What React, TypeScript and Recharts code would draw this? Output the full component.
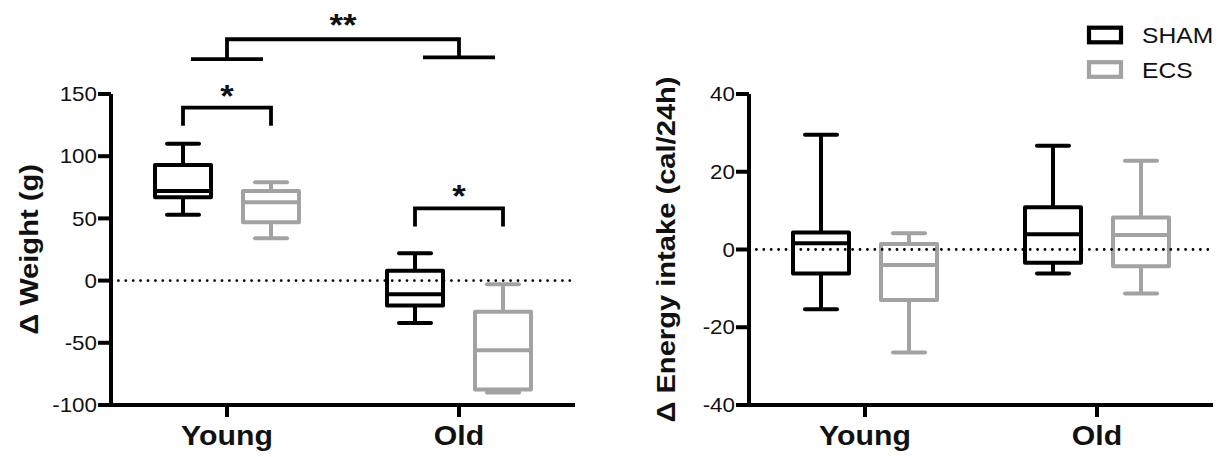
import React from 'react';
import { ComposedChart, Bar, XAxis, YAxis, ReferenceLine } from 'recharts';

const categories = ['Young', 'Old'];
const seriesNames = ['SHAM', 'ECS'];
const seriesColors = ['#000000', '#a2a2a5'];

// Δ Weight (g) — whisker min, Q1, median, Q3, whisker max per category
const weightShamMin = [53, -34];
const weightShamQ1 = [67, -20];
const weightShamMedian = [72, -11];
const weightShamQ3 = [93, 8];
const weightShamMax = [110, 22];
const weightEcsMin = [34, -90];
const weightEcsQ1 = [47, -87.5];
const weightEcsMedian = [63, -56];
const weightEcsQ3 = [72, -25];
const weightEcsMax = [79, -3];
const weightTicks = [-100, -50, 0, 50, 100, 150];

// Δ Energy intake (cal/24h)
const energyShamMin = [-15.4, -6.2];
const energyShamQ1 = [-6.2, -3.4];
const energyShamMedian = [1.6, 3.9];
const energyShamQ3 = [4.4, 10.9];
const energyShamMax = [29.5, 26.7];
const energyEcsMin = [-26.5, -11.3];
const energyEcsQ1 = [-13, -4.3];
const energyEcsMedian = [-4, 3.7];
const energyEcsQ3 = [1.4, 8.2];
const energyEcsMax = [4.2, 22.8];
const energyTicks = [-40, -20, 0, 20, 40];

// significance: SHAM vs ECS within a category (bracket level, in g)
const pairSigLabels = ['*', '*'];
const pairSigLevels = [139, 58];
// Young vs Old overall
const groupSigLabel = '**';
const groupSigLevel = 194;
const groupBaseLevels = [178, 179.5];

const FONT = '"Liberation Sans", Arial, Helvetica, sans-serif';
const STRETCH = 1.12;
const BAR_SIZE = 60;
const BAR_GAP = 28;
const SW = 4;

type Stats = { min: number; q1: number; med: number; q3: number; max: number };

function buildRows(sham: number[][], ecs: number[][]) {
  return categories.map((cat, i) => {
    const s: Stats = { min: sham[0][i], q1: sham[1][i], med: sham[2][i], q3: sham[3][i], max: sham[4][i] };
    const e: Stats = { min: ecs[0][i], q1: ecs[1][i], med: ecs[2][i], q3: ecs[3][i], max: ecs[4][i] };
    return { cat, SHAM: [s.min, s.max], ECS: [e.min, e.max], SHAMstats: s, ECSstats: e };
  });
}

const weightRows = buildRows(
  [weightShamMin, weightShamQ1, weightShamMedian, weightShamQ3, weightShamMax],
  [weightEcsMin, weightEcsQ1, weightEcsMedian, weightEcsQ3, weightEcsMax],
);
const energyRows = buildRows(
  [energyShamMin, energyShamQ1, energyShamMedian, energyShamQ3, energyShamMax],
  [energyEcsMin, energyEcsQ1, energyEcsMedian, energyEcsQ3, energyEcsMax],
);

function SText({ x, y, anchor = 'start', size, weight = 'normal', rotate = false, dy, children }: any) {
  return (
    <text
      transform={`translate(${x},${y})${rotate ? ' rotate(-90)' : ''} scale(${STRETCH},1)`}
      textAnchor={anchor}
      fontSize={size}
      fontWeight={weight}
      fontFamily={FONT}
      fill="#111"
      dy={dy}
    >
      {children}
    </text>
  );
}

const XTick = (p: any) => (
  <SText x={p.x} y={p.y} anchor="middle" size={27} weight="bold" dy="0.71em">{p.payload.value}</SText>
);
const YTick = (p: any) => (
  <SText x={p.x} y={p.y} anchor="end" size={20} dy="0.355em">{p.payload.value}</SText>
);

function BoxShape(props: any) {
  const { x, y, width, height, color, stats } = props;
  const s: Stats = stats;
  const top = Math.min(y, y + height);
  const bottom = Math.max(y, y + height);
  const px = (v: number) => bottom - ((v - s.min) / (s.max - s.min)) * (bottom - top);
  const cx = x + width / 2;
  const cap = 16;
  return (
    <g stroke={color} strokeWidth={SW} fill="none">
      <line x1={cx} x2={cx} y1={px(s.max)} y2={px(s.q3)} />
      <line x1={cx} x2={cx} y1={px(s.q1)} y2={px(s.min)} />
      <line x1={cx - cap} x2={cx + cap} y1={px(s.max)} y2={px(s.max)} strokeLinecap="round" />
      <line x1={cx - cap} x2={cx + cap} y1={px(s.min)} y2={px(s.min)} strokeLinecap="round" />
      <rect x={x + SW / 2} y={px(s.q3)} width={width - SW} height={px(s.q1) - px(s.q3)} strokeLinejoin="round" />
      <line x1={x + SW / 2} x2={x + width - SW / 2} y1={px(s.med)} y2={px(s.med)} />
    </g>
  );
}

interface PanelProps {
  rows: any[];
  ticks: number[];
  width: number;
  margin: { top: number; right: number; bottom: number; left: number };
}

function Panel({ rows, ticks, width, margin }: PanelProps) {
  const axisStyle = { stroke: '#000', strokeWidth: 4 };
  return (
    <ComposedChart width={width} height={457} data={rows} margin={margin} barGap={BAR_GAP}>
      <XAxis dataKey="cat" type="category" height={40} tick={XTick} tickLine={axisStyle} axisLine={axisStyle} tickSize={12} tickMargin={9} />
      <YAxis
        type="number"
        width={60}
        domain={[ticks[0], ticks[ticks.length - 1]]}
        ticks={ticks}
        interval={0}
        tick={YTick}
        tickLine={axisStyle}
        axisLine={axisStyle}
        tickSize={13}
        tickMargin={1}
      />
      <ReferenceLine y={0} stroke="#000" strokeWidth={2.8} strokeDasharray="0 7.4" strokeLinecap="round" />
      {seriesNames.map((name, k) => (
        <Bar
          key={name}
          dataKey={name}
          barSize={BAR_SIZE}
          isAnimationActive={false}
          shape={(p: any) => (
            <BoxShape {...p} color={seriesColors[k]} stats={(p.payload || rows[p.index])[name + 'stats']} />
          )}
        />
      ))}
    </ComposedChart>
  );
}

// plot geometry on the page (shared by chart margins and the annotation overlay)
const LEFT_PLOT = { left: 111, right: 575, top: 94, bottom: 405 };
const RIGHT_X0 = 600;
const RIGHT_PLOT = { left: 749, right: 1213, top: 94, bottom: 405 };

const yWeight = (v: number) =>
  LEFT_PLOT.top + ((weightTicks[weightTicks.length - 1] - v) / (weightTicks[weightTicks.length - 1] - weightTicks[0])) * (LEFT_PLOT.bottom - LEFT_PLOT.top);
const catX = (i: number) => LEFT_PLOT.left + ((i + 0.5) * (LEFT_PLOT.right - LEFT_PLOT.left)) / categories.length;
const HALF = (BAR_SIZE + BAR_GAP) / 2;

function Overlay() {
  const leg = 18;
  const gy = yWeight(groupSigLevel);
  return (
    <svg width={1219} height={457} style={{ position: 'absolute', left: 0, top: 0, pointerEvents: 'none' }}>
      <SText x={38} y={(LEFT_PLOT.top + LEFT_PLOT.bottom) / 2} anchor="middle" size={26} weight="bold" rotate>Δ Weight (g)</SText>
      <SText x={675} y={(RIGHT_PLOT.top + RIGHT_PLOT.bottom) / 2} anchor="middle" size={26} weight="bold" rotate>Δ Energy intake (cal/24h)</SText>

      <g stroke="#000" strokeWidth={3.8} fill="none">
        {categories.map((c, i) => {
          const yy = yWeight(pairSigLevels[i]);
          return (
            <path key={c} d={`M${catX(i) - HALF},${yy + leg} V${yy} H${catX(i) + HALF} V${yy + leg}`} />
          );
        })}
        <path d={`M${catX(0)},${yWeight(groupBaseLevels[0])} V${gy} H${catX(1)} V${yWeight(groupBaseLevels[1])}`} />
        {categories.map((c, i) => (
          <line key={c} x1={catX(i) - 36} x2={catX(i) + 36} y1={yWeight(groupBaseLevels[i])} y2={yWeight(groupBaseLevels[i])} />
        ))}
      </g>
      {categories.map((c, i) => (
        <SText key={c} x={catX(i)} y={yWeight(pairSigLevels[i]) - 1} anchor="middle" size={31} weight="bold">{pairSigLabels[i]}</SText>
      ))}
      <SText x={(catX(0) + catX(1)) / 2} y={gy - 3} anchor="middle" size={31} weight="bold">{groupSigLabel}</SText>

      {seriesNames.map((name, k) => (
        <g key={name}>
          <rect x={1089} y={27.7 + k * 34.5} width={32} height={14.6} fill="none" stroke={seriesColors[k]} strokeWidth={4.2} />
          <SText x={1142} y={43 + k * 34.5} size={22}>{name}</SText>
        </g>
      ))}
    </svg>
  );
}

export default function App() {
  return (
    <div style={{ position: 'absolute', left: 0, top: 0, width: 1219, height: 457, background: '#fff' }}>
      <div style={{ position: 'absolute', left: 0, top: 0 }}>
        <Panel
          rows={weightRows}
          ticks={weightTicks}
          width={600}
          margin={{ top: LEFT_PLOT.top, right: 600 - LEFT_PLOT.right, bottom: 457 - LEFT_PLOT.bottom - 40, left: LEFT_PLOT.left - 60 }}
        />
      </div>
      <div style={{ position: 'absolute', left: RIGHT_X0, top: 0 }}>
        <Panel
          rows={energyRows}
          ticks={energyTicks}
          width={619}
          margin={{ top: RIGHT_PLOT.top, right: RIGHT_X0 + 619 - RIGHT_PLOT.right, bottom: 457 - RIGHT_PLOT.bottom - 40, left: RIGHT_PLOT.left - RIGHT_X0 - 60 }}
        />
      </div>
      <Overlay />
    </div>
  );
}
